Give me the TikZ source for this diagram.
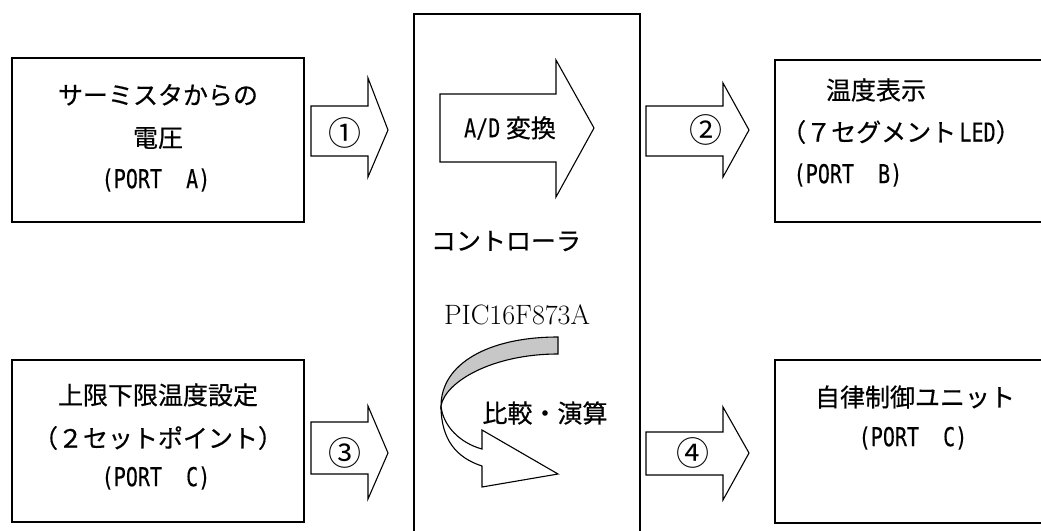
\documentclass[tikz,border=0pt]{standalone}
\usepackage{fontspec}
\usepackage{graphicx}
\newfontfamily\jp[FakeBold=0.5]{Noto Sans CJK JP}
\newfontfamily\cirfont{Noto Sans CJK JP}
\newfontfamily\hwfont[FakeBold=0.3]{DejaVu Sans Mono}
\newcommand\hw[1]{\scalebox{0.77}[1]{\fontsize{26}{28}\selectfont\hwfont #1}}
\tikzset{
  lbl/.style={inner sep=0pt, font=\jp\fontsize{25}{28}\selectfont},
  num/.style={inner sep=0pt, font=\cirfont\fontsize{33}{34}\selectfont},
  blk/.style={draw=black, line width=1.3pt},
  barrow/.style={draw=black, line width=1.1pt, fill=white, line join=miter},
}
\begin{document}
\begin{tikzpicture}[x=1pt,y=-1pt]
\useasboundingbox[fill=white] (0,0) rectangle (1041,530);
% boxes
\draw[blk] (12,58) rectangle (304,222);
\draw[blk] (12,360) rectangle (304,522);
\draw[blk] (1046,60) -- (775,60) -- (775,222) -- (1046,222);
\draw[blk] (1046,360) -- (775,360) -- (775,523) -- (1046,523);
\draw[blk] (414,535) -- (414,14) -- (640,14) -- (640,535);
% block arrows
\draw[barrow] (311,106) -- (368,106) -- (368,78) -- (388,130) -- (368,177) -- (368,156) -- (311,156) -- cycle;
\draw[barrow] (646,106) -- (723,106) -- (723,83) -- (749,130) -- (723,177) -- (723,156) -- (646,156) -- cycle;
\draw[barrow] (311,422) -- (368,422) -- (368,406) -- (388,453) -- (368,499) -- (368,474) -- (311,474) -- cycle;
\draw[barrow] (646,432) -- (723,432) -- (723,407) -- (749,453) -- (723,500) -- (723,475) -- (646,475) -- cycle;
\draw[barrow] (440,94) -- (556,94) -- (556,60) -- (594,128) -- (556,197) -- (556,162) -- (440,162) -- cycle;
% curved arrow
\draw[barrow, fill=black!22] (558,337) .. controls (488,337) and (441,364) .. (441,406)
   .. controls (445,382) and (492,354) .. (558,354) -- cycle;
\draw[barrow] (441,406) .. controls (443,426) and (460,443) .. (482,449)
   -- (482,430) -- (558,474) -- (482,487) -- (482,466)
   .. controls (457,458) and (441,440) .. (441,406) -- cycle;
% texts
\node[lbl] (a1) at (158,95) {サーミスタからの};
\node[lbl] (a2) at (158,138) {電圧};
\node[lbl] (a3) at (156,180) {\hw{(PORT\ \ A)}};
\node[lbl] (c1) at (158,395) {上限下限温度設定};
\node[lbl] (c2) at (158,438) {（２セットポイント）};
\node[lbl] (c3) at (156,478) {\hw{(PORT\ \ C)}};
\node[lbl] (b1) at (876,90) {温度表示};
\node[lbl, anchor=west] (b2) at (781,132) {（７セグメント\hw{\,LED}）};
\node[lbl] (b3) at (848,175) {\hw{(PORT\ \ B)}};
\node[lbl] (u1) at (915,397) {自律制御ユニット};
\node[lbl] (u2) at (913,438) {\hw{(PORT\ \ C)}};
\node[lbl] (ad) at (510,128) {\hw{A/D} 変換};
\node[lbl] (k1) at (506,241) {コントローラ};
\node[inner sep=0pt, font=\fontsize{28}{30}\selectfont] (k2) at (517,315) {PIC16F873A};
\node[lbl] (k3) at (545,413) {比較・演算};
\node[num] (n1) at (345,133) {①};
\node[num] (n2) at (706,130) {②};
\node[num] (n3) at (345,453) {③};
\node[num] (n4) at (693,453) {④};
\end{tikzpicture}
\end{document}
